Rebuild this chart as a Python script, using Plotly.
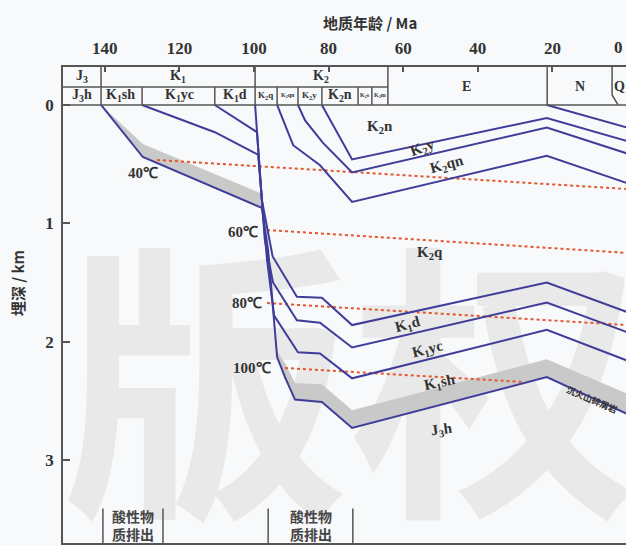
import plotly.graph_objects as go

# ---------------- data (age in Ma, depth in km) ----------------
x_ticks = [140, 120, 100, 80, 60, 40, 20]
y_ticks = [0, 1, 2, 3]

# burial curves: tops of each formation
j3h_age = [141.0, 129.8, 97.9, 96.2, 93.8, 91.7, 89.0, 81.8, 73.7, 21.5, 0.0]
j3h_dep = [0.0, 0.44, 0.87, 1.23, 2.13, 2.30, 2.49, 2.51, 2.73, 2.30, 2.61]
k1sh_age = [130.0, 110.5, 98.9, 96.5, 94.6, 88.2, 82.3, 73.7, 21.5, 0.0]
k1sh_dep = [0.0, 0.23, 0.42, 1.31, 1.78, 2.09, 2.10, 2.31, 1.90, 2.16]
k1yc_age = [110.5, 99.2, 97.1, 94.9, 88.5, 82.3, 73.7, 21.5, 0.0]
k1yc_dep = [0.0, 0.23, 1.14, 1.50, 1.82, 1.84, 2.05, 1.67, 1.92]
k1d_age = [99.7, 97.9, 95.0, 88.5, 81.8, 73.7, 21.5, 0.0]
k1d_dep = [0.0, 0.80, 1.28, 1.62, 1.63, 1.86, 1.50, 1.75]
k2q_age = [93.8, 89.5, 82.3, 73.7, 21.5, 0.0]
k2q_dep = [0.0, 0.34, 0.51, 0.82, 0.43, 0.66]
k2qn_age = [88.2, 86.3, 81.5, 73.7, 21.5, 0.0]
k2qn_dep = [0.0, 0.13, 0.32, 0.57, 0.19, 0.41]
k2y_age = [81.8, 73.7, 21.5, 0.0]
k2y_dep = [0.0, 0.46, 0.11, 0.305]
nbase_age = [21.5, 0.0]
nbase_dep = [0.0, 0.19]

# volcaniclastic band thickness (km) above J3h top
band_thick = [0.0, 0.11, 0.12, 0.05, 0.05, 0.12, 0.14, 0.15, 0.15, 0.15, 0.17]

# isotherms
iso_names = ["40℃", "60℃", "80℃", "100℃"]
iso_age = [[126.0, 0.0], [96.5, 0.0], [96.5, 0.0], [91.7, 28.2]]
iso_dep = [[0.465, 0.71], [1.057, 1.25], [1.674, 1.86], [2.223, 2.34]]
iso_lab_age = [129.8, 103.0, 101.9, 100.5]
iso_lab_dep = [0.575, 1.07, 1.67, 2.22]

# stratigraphic header
row1_bounds = [141.0, 99.7, 64.1, 21.4]
row2_bounds = [130.0, 110.5, 93.8, 88.2, 81.8, 72.1, 68.4]
row1_labels = ["J<sub>3</sub>", "K<sub>1</sub>", "K<sub>2</sub>"]
row1_label_age = [146.1, 120.4, 82.0]
full_labels = ["E", "N", "Q"]
full_label_age = [42.9, 12.6, 2.1]
row2_labels = ["J<sub>3</sub>h", "K<sub>1</sub>sh", "K<sub>1</sub>yc", "K<sub>1</sub>d",
               "K<sub>2</sub>q", "K<sub>2</sub>qn", "K<sub>2</sub>y", "K<sub>2</sub>n",
               "K<sub>2</sub>s", "K<sub>2</sub>m"]
row2_label_age = [146.1, 135.7, 120.1, 105.1, 96.8, 90.9, 85.0, 76.9, 70.2, 66.2]
row2_label_size = [14, 14, 14, 14, 9, 6, 9, 14, 6, 6]

# formation labels inside the plot
fm_labels = ["K<sub>2</sub>n", "K<sub>2</sub>y", "K<sub>2</sub>qn", "K<sub>2</sub>q",
             "K<sub>1</sub>d", "K<sub>1</sub>yc", "K<sub>1</sub>sh", "J<sub>3</sub>h"]
fm_age = [66.2, 54.7, 48.3, 52.8, 58.7, 53.6, 50.1, 49.6]
fm_dep = [0.19, 0.36, 0.51, 1.25, 1.86, 2.07, 2.35, 2.75]
fm_rot = [0, -20, -15, 0, -15, -14, -12, -8]

# acid fluid expulsion windows
acid_start = [140.5, 96.2]
acid_end = [124.4, 73.5]
acid_text = "酸性物<br>质排出"

X0, X1 = 151.2, 0.27
Y_TOP, Y_BOT = -0.321, 3.702
Y_MID = -0.152

LINE = "#3f3d99"
RED = "#e4572e"
FRAME = "#555555"
SERIF = "Liberation Serif"
CJK = "Noto Sans CJK SC"

fig = go.Figure()

# watermark (drawn first so everything sits on top)
fig.add_trace(go.Scatter(x=[74.0], y=[2.68], mode="text", text=["版权"],
                         textfont=dict(size=290, color="#e9e9e9", family=CJK, weight="bold"),
                         hoverinfo="skip", showlegend=False))

# grey volcaniclastic band
band_top = [d - t for d, t in zip(j3h_dep, band_thick)]
fig.add_trace(go.Scatter(x=j3h_age + j3h_age[::-1], y=j3h_dep + band_top[::-1],
                         fill="toself", fillcolor="#c9c9c9", line=dict(width=0),
                         mode="lines", hoverinfo="skip", showlegend=False))

# isotherms
for a, d in zip(iso_age, iso_dep):
    fig.add_trace(go.Scatter(x=a, y=d, mode="lines",
                             line=dict(color=RED, width=2, dash="dot"),
                             hoverinfo="skip", showlegend=False))

# burial curves
for a, d in [(j3h_age, j3h_dep), (k1sh_age, k1sh_dep), (k1yc_age, k1yc_dep),
             (k1d_age, k1d_dep), (k2q_age, k2q_dep), (k2qn_age, k2qn_dep),
             (k2y_age, k2y_dep), (nbase_age, nbase_dep)]:
    fig.add_trace(go.Scatter(x=a, y=d, mode="lines",
                             line=dict(color=LINE, width=2),
                             hoverinfo="skip", showlegend=False))

shapes = []
# header lines
shapes.append(dict(type="line", x0=X0, x1=X1, y0=0, y1=0, line=dict(color=FRAME, width=1.5)))
shapes.append(dict(type="line", x0=X0, x1=row1_bounds[2], y0=Y_MID, y1=Y_MID,
                   line=dict(color=FRAME, width=1.5)))
for b in row1_bounds:
    shapes.append(dict(type="line", x0=b, x1=b, y0=Y_TOP, y1=0, line=dict(color=FRAME, width=1.5)))
for b in row2_bounds:
    shapes.append(dict(type="line", x0=b, x1=b, y0=Y_MID, y1=0, line=dict(color=FRAME, width=1.5)))
# Q boundary (bent)
shapes.append(dict(type="path", path=f"M 4.0,{Y_TOP} L 4.0,-0.085 L 2.4,0",
                   line=dict(color=FRAME, width=1.5)))
# acid expulsion brackets
for s, e in zip(acid_start, acid_end):
    for b in (s, e):
        shapes.append(dict(type="line", x0=b, x1=b, y0=3.41, y1=Y_BOT,
                           line=dict(color=FRAME, width=1.5)))

ann = []
C = dict(showarrow=False, xanchor="center", yanchor="middle")
hdr_font = dict(family=SERIF, size=14, color="#333333")
for t, a in zip(row1_labels, row1_label_age):
    ann.append(dict(x=a, y=-0.237, text=f"<b>{t}</b>", font=hdr_font, **C))
for t, a in zip(full_labels, full_label_age):
    ann.append(dict(x=a, y=-0.16, text=f"<b>{t}</b>", font=hdr_font, **C))
for t, a, s in zip(row2_labels, row2_label_age, row2_label_size):
    ann.append(dict(x=a, y=-0.076, text=f"<b>{t}</b>",
                    font=dict(family=SERIF, size=s, color="#333333"), **C))
for t, a, d, r in zip(fm_labels, fm_age, fm_dep, fm_rot):
    ann.append(dict(x=a, y=d, text=f"<b>{t}</b>", textangle=r,
                    font=dict(family=SERIF, size=15, color="#333333"), **C))
for t, a, d in zip(iso_names, iso_lab_age, iso_lab_dep):
    ann.append(dict(x=a, y=d, text=f"<b>{t}</b>",
                    font=dict(family=SERIF, size=15, color="#333333"), **C))
for s, e in zip(acid_start, acid_end):
    ann.append(dict(x=(s + e) / 2, y=3.55, text=f"<b>{acid_text}</b>",
                    font=dict(family=CJK, size=14, color="#444444"), **C))
ann.append(dict(x=9.5, y=2.49, text="<b>沉火山碎屑岩</b>", textangle=23,
                font=dict(family=CJK, size=9, color="#333333"), **C))
# "0" tick label (edge of frame)
ann.append(dict(x=2.4, xref="x", y=1.042, yref="paper", text="<b>0</b>",
                font=dict(family=SERIF, size=17, color="#333333"), **C))
# axis titles
ann.append(dict(x=0.545, xref="paper", y=1.0945, yref="paper", text="<b>地质年龄 / Ma</b>",
                font=dict(family=CJK, size=15, color="#333333"), **C))
ann.append(dict(x=-0.0817, xref="paper", y=0.546, yref="paper", text="<b>埋深 / km</b>",
                textangle=-90, font=dict(family=CJK, size=15, color="#333333"), **C))

fig.update_layout(
    width=626, height=545,
    margin=dict(l=63, r=0, t=67, b=2),
    paper_bgcolor="#f7f9fb", plot_bgcolor="#f7f9fb",
    shapes=shapes, annotations=ann, showlegend=False,
)
fig.update_xaxes(range=[X0, X1], side="top", tickvals=x_ticks,
                 ticks="inside", ticklen=5, tickcolor=FRAME, tickwidth=1.5,
                 showline=True, linecolor=FRAME, linewidth=1.5, mirror=True,
                 showgrid=False, zeroline=False, ticklabelstandoff=4,
                 tickfont=dict(family=SERIF, size=17, color="#333333", weight="bold"))
fig.update_yaxes(range=[Y_BOT, Y_TOP], tickvals=y_ticks,
                 ticks="inside", ticklen=7, tickcolor=FRAME, tickwidth=1.5,
                 showline=True, linecolor=FRAME, linewidth=1.5,
                 showgrid=False, zeroline=False, ticklabelstandoff=4,
                 tickfont=dict(family=SERIF, size=17, color="#333333", weight="bold"))

fig.write_html("out.html", config={"displayModeBar": False},
               post_script="document.body.style.margin='0';document.body.style.overflow='hidden';")
